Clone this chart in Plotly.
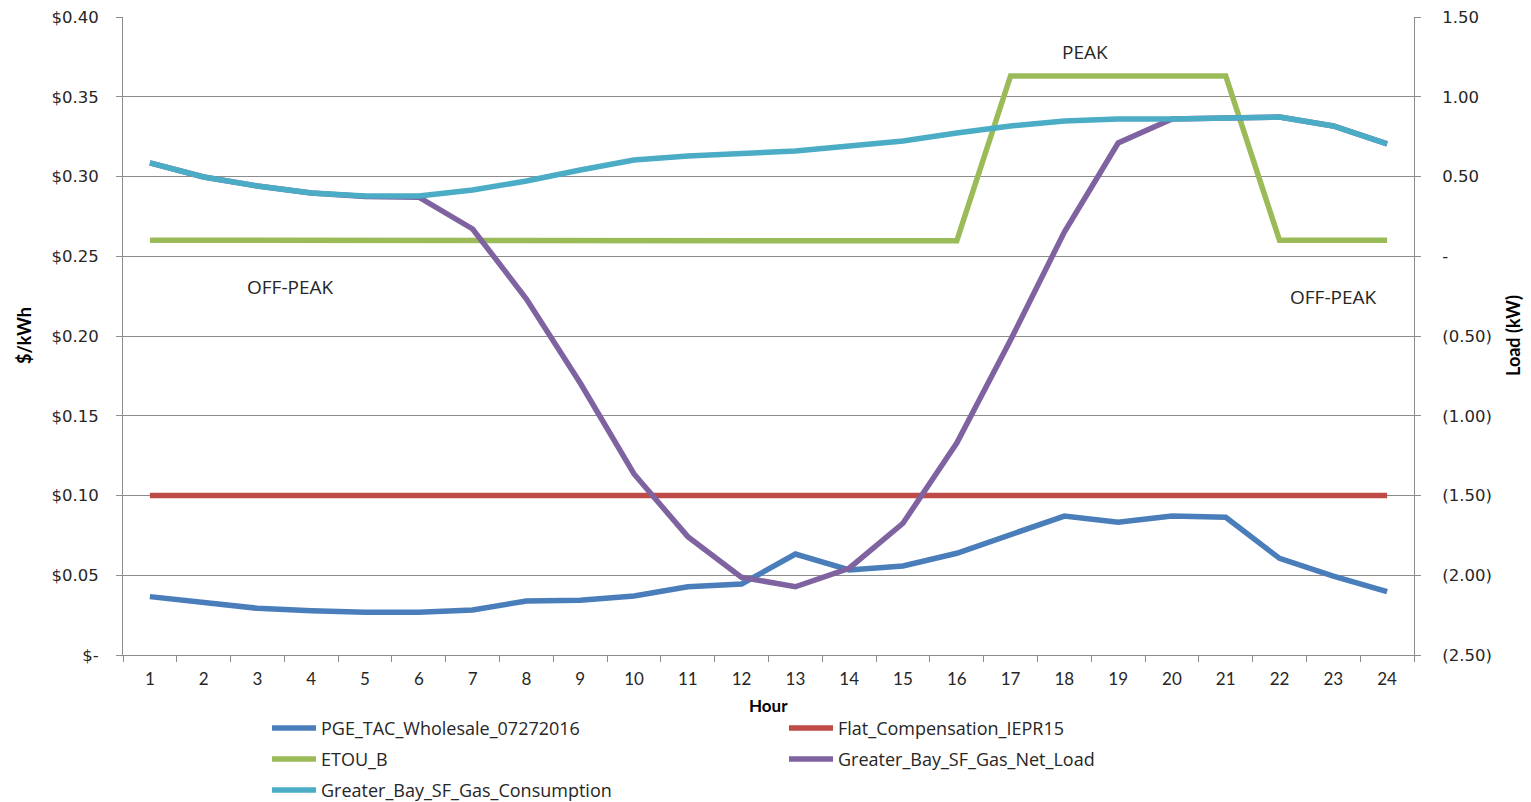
import plotly.graph_objects as go

# ---- data -------------------------------------------------------------
hours = [1, 2, 3, 4, 5, 6, 7, 8, 9, 10, 11, 12,
         13, 14, 15, 16, 17, 18, 19, 20, 21, 22, 23, 24]

# $/kWh (left axis)
pge_tac_wholesale = [0.0366, 0.0328, 0.0293, 0.0278, 0.0268, 0.0268, 0.0282, 0.0339,
                     0.0343, 0.0370, 0.0428, 0.0445, 0.0633, 0.0533, 0.0558, 0.0638,
                     0.0752, 0.0871, 0.0832, 0.0871, 0.0863, 0.0606, 0.0495, 0.0397]
flat_compensation = [0.10, 0.10, 0.10, 0.10, 0.10, 0.10, 0.10, 0.10,
                     0.10, 0.10, 0.10, 0.10, 0.10, 0.10, 0.10, 0.10,
                     0.10, 0.10, 0.10, 0.10, 0.10, 0.10, 0.10, 0.10]
etou_b = [0.260, 0.260, 0.260, 0.260, 0.260, 0.260, 0.260, 0.260,
          0.260, 0.260, 0.260, 0.260, 0.260, 0.260, 0.260, 0.2597,
          0.363, 0.363, 0.363, 0.363, 0.363, 0.260, 0.260, 0.260]

# kW (right axis)
gas_net_load = [0.585, 0.497, 0.440, 0.397, 0.375, 0.370, 0.171, -0.268,
                -0.795, -1.365, -1.758, -2.013, -2.072, -1.956, -1.674, -1.171,
                -0.525, 0.152, 0.710, 0.861, 0.867, 0.873, 0.817, 0.704]
gas_consumption = [0.585, 0.497, 0.440, 0.397, 0.378, 0.378, 0.415, 0.472,
                   0.541, 0.603, 0.629, 0.641, 0.660, 0.691, 0.723, 0.773,
                   0.817, 0.848, 0.861, 0.861, 0.867, 0.873, 0.817, 0.704]

left_ticks = [0.0, 0.05, 0.10, 0.15, 0.20, 0.25, 0.30, 0.35, 0.40]
left_labels = ["$-", "$0.05", "$0.10", "$0.15", "$0.20", "$0.25", "$0.30", "$0.35", "$0.40"]
right_ticks = [-2.5, -2.0, -1.5, -1.0, -0.5, 0.0, 0.5, 1.0, 1.5]
right_labels = ["(2.50)", "(2.00)", "(1.50)", "(1.00)", "(0.50)", "-", "0.50", "1.00", "1.50"]

series = [
    ("PGE_TAC_Wholesale_07272016", pge_tac_wholesale, "y", "#4a7ebb"),
    ("Flat_Compensation_IEPR15", flat_compensation, "y", "#be4b48"),
    ("ETOU_B", etou_b, "y", "#9bbb59"),
    ("Greater_Bay_SF_Gas_Net_Load", gas_net_load, "y2", "#7f63a1"),
    ("Greater_Bay_SF_Gas_Consumption", gas_consumption, "y2", "#4bacc6"),
]

# ---- figure -----------------------------------------------------------
W, H = 1531, 802
L, R, T, B = 123, 117, 17, 147
PW, PH = W - L - R, H - T - B

AXIS = "#8c8c8c"
TXT = "#262626"
FONT = "Open Sans"

fig = go.Figure()
for name, vals, yax, color in series:
    fig.add_trace(go.Scatter(x=hours, y=vals, yaxis=yax, name=name, mode="lines",
                             line=dict(color=color, width=5.5), showlegend=False))


def px(x):
    return (x - L) / PW


def py(y):
    return (H - B - y) / PH


def title(text, x, y, angle=0, size=18):
    return dict(text=f"<b>{text}</b>", x=px(x), y=py(y), xref="paper", yref="paper",
                xanchor="center", yanchor="middle", textangle=angle, showarrow=False,
                font=dict(family="Lato", size=size, color="black"))


annotations = [
    dict(text="OFF-PEAK", x=3.62, y=0.2307, xref="x", yref="y", showarrow=False,
         font=dict(family=FONT, size=19, color=TXT)),
    dict(text="PEAK", x=18.39, y=0.378, xref="x", yref="y", showarrow=False,
         font=dict(family=FONT, size=19, color=TXT)),
    dict(text="OFF-PEAK", x=23.01, y=0.2245, xref="x", yref="y", showarrow=False,
         font=dict(family=FONT, size=19, color=TXT)),
    title("$/kWh", 24, 336, -90),
    title("Load (kW)", 1513, 336, -90),
    title("Hour", 768, 705, 0, 17),
]

# legend: two columns, three rows below the plot
shapes = []
col_x = [270, 787]
row_y0, row_dy = 728, 31
for i, (name, vals, yax, color) in enumerate(series):
    cx = col_x[i % 2]
    cy = row_y0 + row_dy * (i // 2)
    shapes.append(dict(type="line", xref="paper", yref="paper",
                       x0=px(cx + 2), x1=px(cx + 46), y0=py(cy), y1=py(cy),
                       line=dict(color=color, width=5.5)))
    annotations.append(dict(text=name, x=px(cx + 49), y=py(cy), xref="paper", yref="paper",
                            xanchor="left", yanchor="middle", showarrow=False,
                            font=dict(family=FONT, size=18, color=TXT)))

fig.update_layout(
    width=W, height=H,
    margin=dict(l=L, r=R, t=T, b=B, autoexpand=False),
    paper_bgcolor="white", plot_bgcolor="white",
    showlegend=False,
    annotations=annotations,
    shapes=shapes,
    xaxis=dict(
        range=[0.5, 24.5], tickmode="array", tickvals=hours, ticks="",
        ticklabelstandoff=9, automargin=False,
        tickfont=dict(family="Lato", size=17, color=TXT),
        showgrid=False, zeroline=False, showline=True, linecolor=AXIS, linewidth=1,
        minor=dict(tickmode="array", tickvals=[h - 0.5 for h in hours] + [24.5],
                   ticks="outside", ticklen=6, tickcolor=AXIS, showgrid=False),
    ),
    yaxis=dict(
        range=[0, 0.40], tickmode="array", tickvals=left_ticks, ticktext=left_labels,
        ticks="outside", ticklen=6, tickcolor=AXIS, ticklabelstandoff=14, automargin=False,
        tickfont=dict(family="DejaVu Sans", size=16.5, color=TXT),
        showgrid=True, gridcolor=AXIS, gridwidth=1, zeroline=False,
        showline=True, linecolor=AXIS, linewidth=1,
    ),
    yaxis2=dict(
        range=[-2.5, 1.5], overlaying="y", side="right", automargin=False,
        tickmode="array", tickvals=right_ticks, ticktext=right_labels,
        ticks="outside", ticklen=6, tickcolor=AXIS, ticklabelstandoff=18,
        tickfont=dict(family="DejaVu Sans", size=16.5, color=TXT),
        showgrid=False, zeroline=False, showline=True, linecolor=AXIS, linewidth=1,
    ),
)

fig.write_html("out.html")
